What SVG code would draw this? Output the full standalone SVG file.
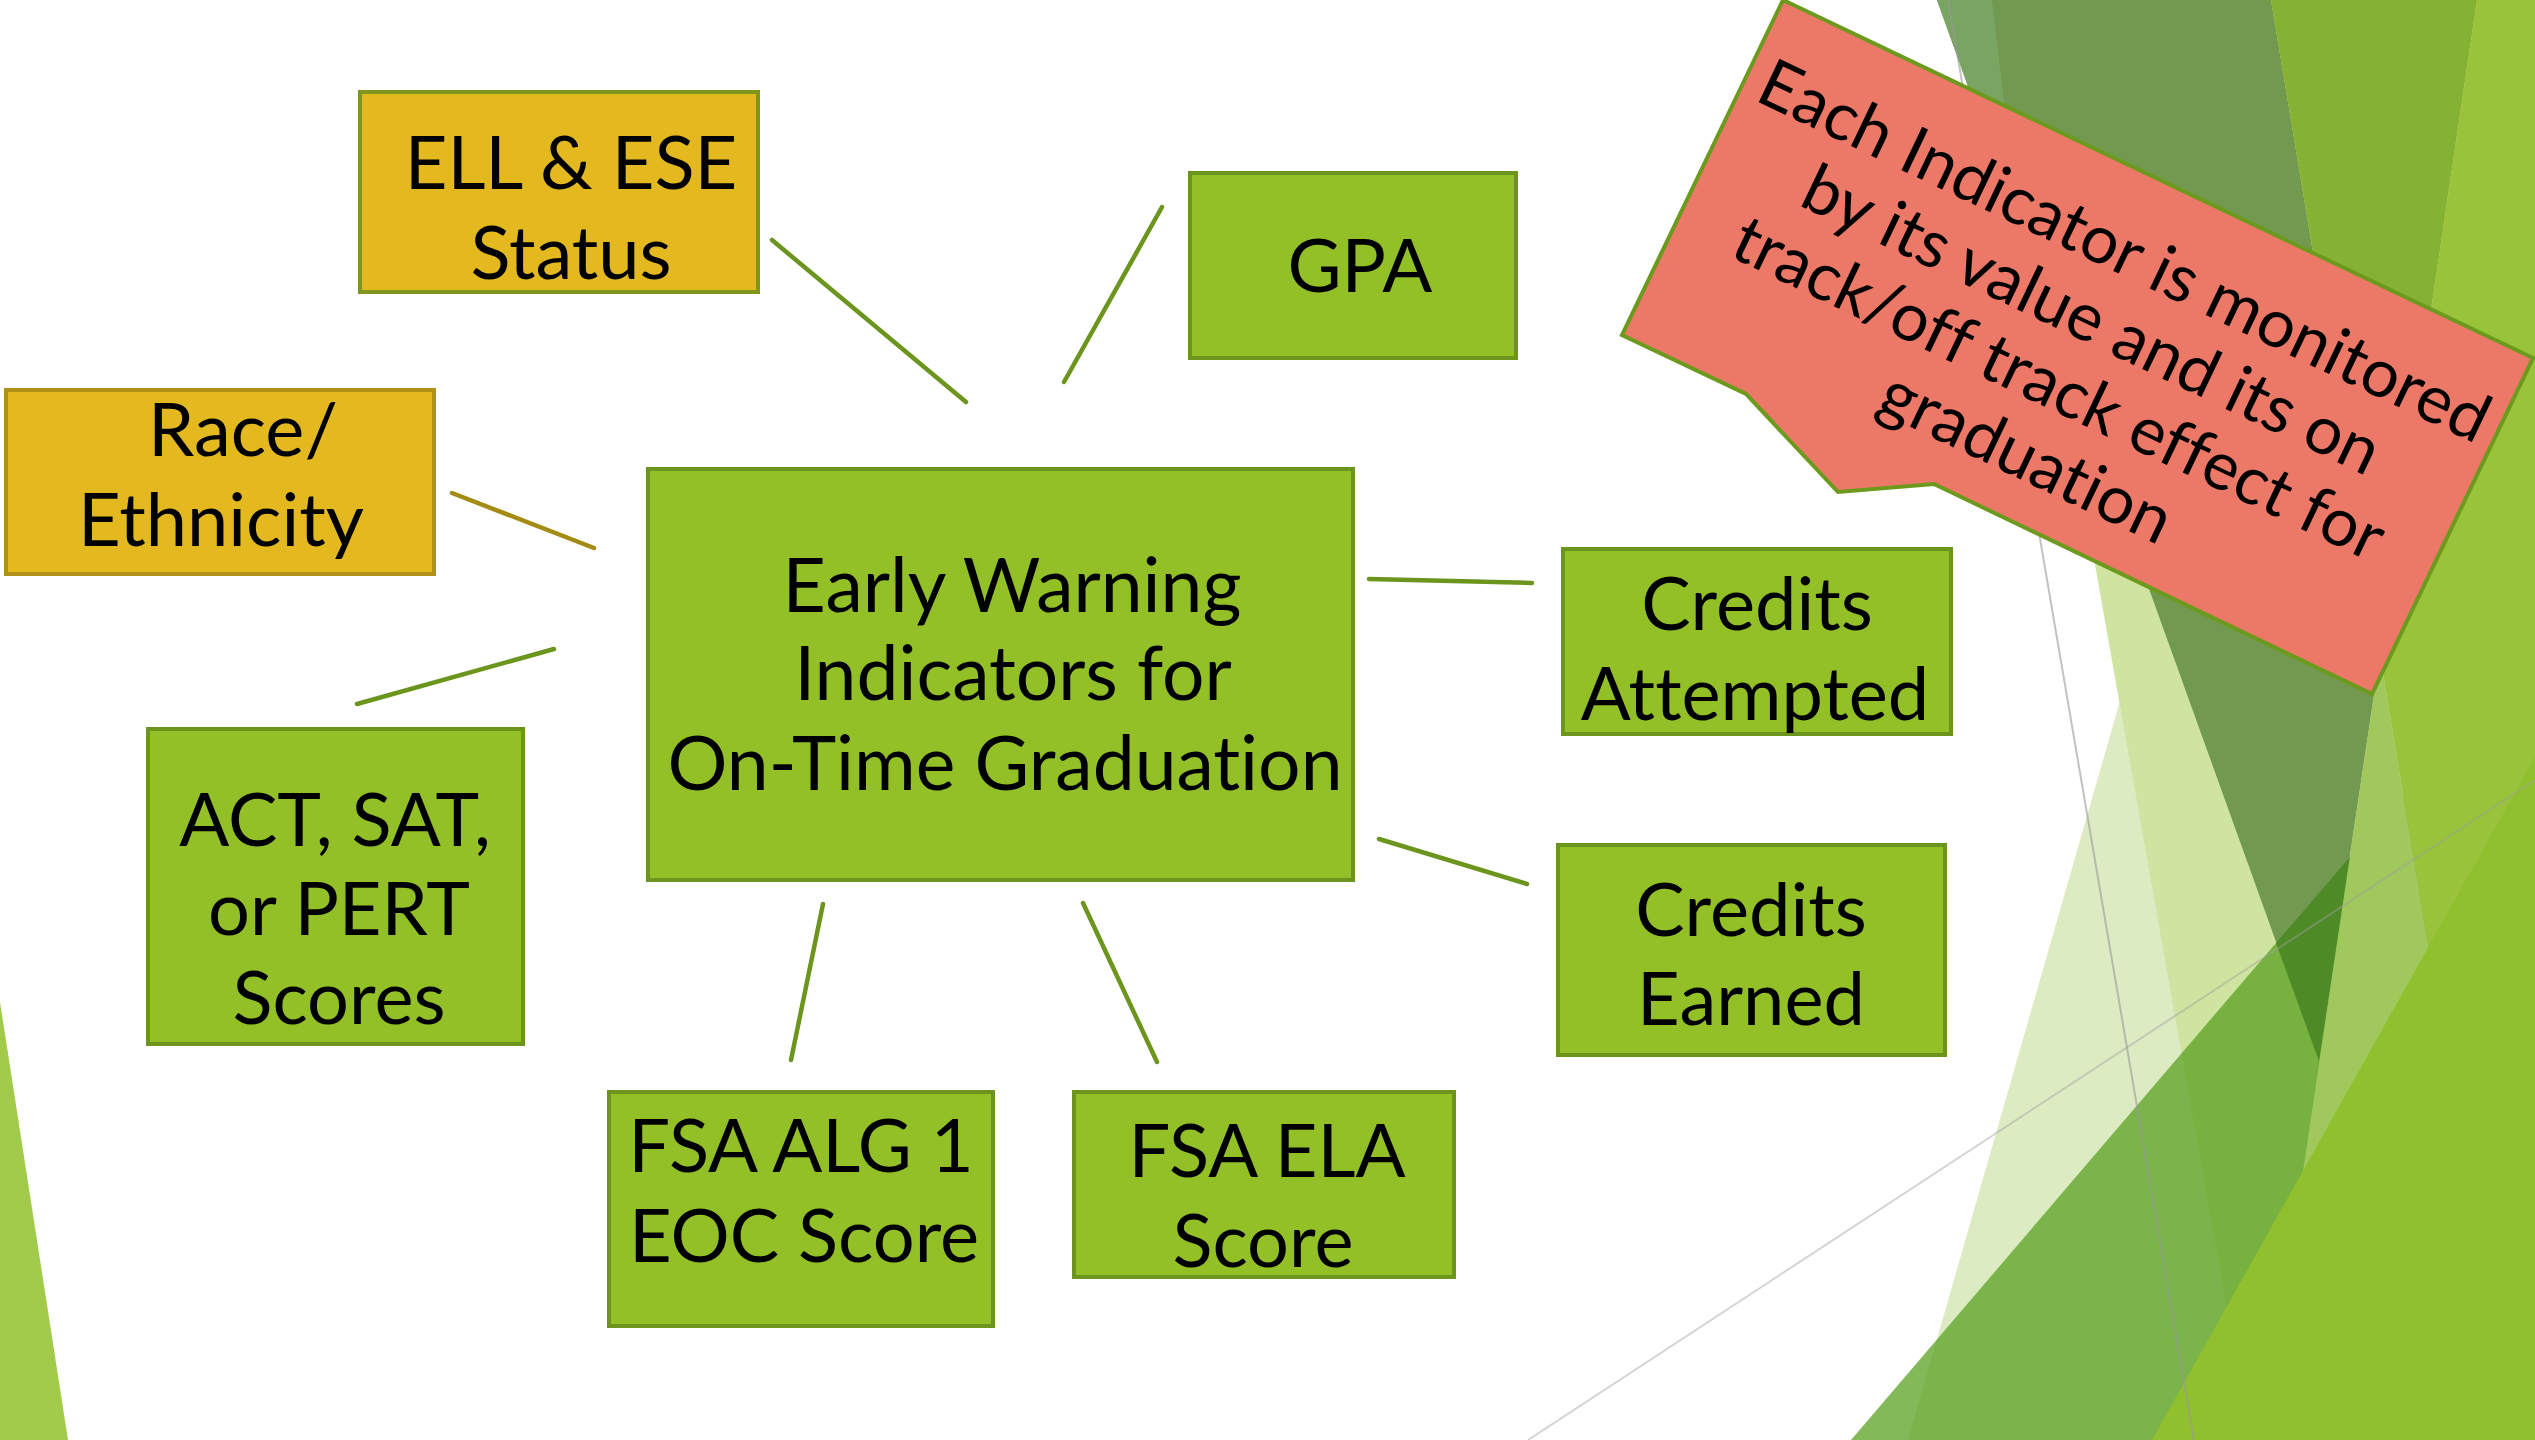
<svg xmlns="http://www.w3.org/2000/svg" width="2535" height="1440" viewBox="0 0 2535 1440">
<defs>
<style>
.box{fill:#93C026;stroke:#6C951E;stroke-width:4}
.gold{fill:#E4B91F;stroke-width:4}
.t{font-family:Lato,"Open Sans","DejaVu Sans",sans-serif;font-size:74px;fill:#000;text-anchor:middle;font-variant-ligatures:none;font-feature-settings:"liga" 0,"clig" 0}
.c{stroke:#6C951E;stroke-width:4.5;stroke-linecap:round;fill:none}
.ct{font-family:Lato,"Open Sans","DejaVu Sans",sans-serif;font-size:67px;fill:#000;text-anchor:middle;font-variant-ligatures:none;font-feature-settings:"liga" 0,"clig" 0}
</style>
</defs>
<rect width="2535" height="1440" fill="#FFFFFF"/>
<g id="background">
<polygon points="0,1002 68,1440 0,1440" fill="#A2CB4B"/>
<polygon points="1908,1440 2321,0 2535,0 2535,1440" fill="#DDEBC2"/>
<polygon points="1995,0 2535,0 2535,1440 2250,1440" fill="#CFE4A0"/>
<polygon points="1851,1440 2535,640 2535,1440" fill="rgb(89,161,34)" fill-opacity="0.75"/>
<polygon points="1937,0 2271,0 2380,655 2319,1061" fill="#71994F"/>
<polygon points="2276,943 2350,857 2319,1061" fill="#4E8A25"/>
<polygon points="1937,0 1992,0 2019,229" fill="#79A462"/>
<polygon points="2271,0 2477,0 2380,655" fill="#85B233"/>
<polygon points="2477,0 2535,0 2535,1440 2510,1440 2380,655" fill="#98C33A"/>
<polygon points="2380,655 2510,1440 2263,1440" fill="#A0C85D"/>
<polygon points="2152,1440 2535,757 2535,1440" fill="#91C02E"/>
<line x1="1948" y1="0" x2="2194" y2="1440" stroke="#9A9A9A" stroke-opacity="0.6" stroke-width="2"/>
<line x1="1528" y1="1440" x2="2535" y2="780" stroke="#A0A0A0" stroke-opacity="0.45" stroke-width="2"/>
</g>
<g id="connectors">
<line class="c" x1="772" y1="240" x2="966" y2="402"/>
<line class="c" x1="1162" y1="207" x2="1064" y2="382"/>
<line class="c" x1="452" y1="493" x2="594" y2="548" style="stroke:#A48C14"/>
<line class="c" x1="357" y1="704" x2="554" y2="649"/>
<line class="c" x1="1369" y1="579" x2="1532" y2="583"/>
<line class="c" x1="1379" y1="839" x2="1527" y2="884"/>
<line class="c" x1="823" y1="904" x2="791" y2="1060"/>
<line class="c" x1="1083" y1="903" x2="1157" y2="1062"/>
</g>
<g id="center">
<rect class="box" x="648" y="469" width="705" height="411"/>
<text class="t" style="font-size:75px"><tspan x="1012" y="612">Early Warning</tspan><tspan x="1013" y="700">Indicators for</tspan><tspan x="1005" y="790">On-Time Graduation</tspan></text>
</g>
<g id="ell">
<rect class="gold" x="360" y="92" width="398" height="200" style="stroke:#7E961C"/>
<text class="t"><tspan x="571" y="189">ELL &amp; ESE</tspan><tspan x="571" y="279">Status</tspan></text>
</g>
<g id="gpa">
<rect class="box" x="1190" y="173" width="326" height="185"/>
<text class="t"><tspan x="1360" y="292">GPA</tspan></text>
</g>
<g id="race">
<rect class="gold" x="6" y="390" width="428" height="184" style="stroke:#B0911A"/>
<text class="t"><tspan x="243" y="456">Race/</tspan><tspan x="221" y="546">Ethnicity</tspan></text>
</g>
<g id="act">
<rect class="box" x="148" y="729" width="375" height="315"/>
<text class="t"><tspan x="335" y="846">ACT, SAT,</tspan><tspan x="339" y="935">or PERT</tspan><tspan x="339" y="1024">Scores</tspan></text>
</g>
<g id="fsa-alg">
<rect class="box" x="609" y="1092" width="384" height="234"/>
<text class="t"><tspan x="801" y="1172">FSA ALG 1</tspan><tspan x="804" y="1262">EOC Score</tspan></text>
</g>
<g id="fsa-ela">
<rect class="box" x="1074" y="1092" width="380" height="185"/>
<text class="t"><tspan x="1267" y="1177">FSA ELA</tspan><tspan x="1263" y="1267">Score</tspan></text>
</g>
<g id="credits-attempted">
<rect class="box" x="1563" y="549" width="388" height="185"/>
<text class="t"><tspan x="1757" y="630">Credits</tspan><tspan x="1755" y="720">Attempted</tspan></text>
</g>
<g id="credits-earned">
<rect class="box" x="1558" y="845" width="387" height="210"/>
<text class="t"><tspan x="1751" y="936">Credits</tspan><tspan x="1751" y="1025">Earned</tspan></text>
</g>
<g id="callout">
<polygon points="1783,0 2533,358 2372,694 1934,484 1838,492 1746,394 1622,335" fill="#EC7867" stroke="#6C9A1C" stroke-width="4" stroke-linejoin="miter"/>
<g transform="translate(2076,353) rotate(25.5)">
<text class="ct"><tspan x="0" y="-90">Each Indicator is monitored</tspan><tspan x="0" y="-14">by its value and its on</tspan><tspan x="0" y="62">track/off track effect for</tspan><tspan x="0" y="138">graduation</tspan></text>
</g>
</g>
</svg>
